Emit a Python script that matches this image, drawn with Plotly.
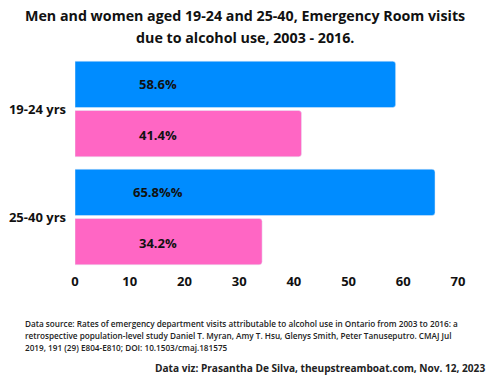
import plotly.graph_objects as go

categories = ["19-24 yrs", "25-40 yrs"]
men_values = [58.6, 65.8]
women_values = [41.4, 34.2]
men_labels = ["58.6%", "65.8%%"]
women_labels = ["41.4%", "34.2%"]
x_ticks = [0, 10, 20, 30, 40, 50, 60, 70]

BLUE = "#008CFF"
PINK = "#FF66C4"
FONT = "Open Sans"

fig = go.Figure()
fig.add_trace(go.Bar(y=categories, x=men_values, orientation="h", marker=dict(color=BLUE, cornerradius=3),
                     name="Men", hoverinfo="skip"))
fig.add_trace(go.Bar(y=categories, x=women_values, orientation="h", marker=dict(color=PINK, cornerradius=3),
                     name="Women", hoverinfo="skip"))

label_x = 15.2
for cat, ml, wl in zip(categories, men_labels, women_labels):
    fig.add_annotation(x=label_x, y=cat, text=ml, showarrow=False, yshift=25.5,
                       font=dict(family=FONT, size=13, color="#111111", weight="bold"))
    fig.add_annotation(x=label_x, y=cat, text=wl, showarrow=False, yshift=-25.5,
                       font=dict(family=FONT, size=13, color="#111111", weight="bold"))

title_lines = ["Men and women aged 19-24 and 25-40, Emergency Room visits",
               "due to alcohol use, 2003 - 2016."]
for ty, line in zip([1.185, 1.079], title_lines):
    fig.add_annotation(xref="paper", yref="paper", x=0.444, y=ty, yanchor="middle", xanchor="center",
                       text=line, showarrow=False,
                       font=dict(family=FONT, size=14.25, color="#111111", weight="bold"))

source_lines = ["Data source: Rates of emergency department visits attributable to alcohol use in Ontario from 2003 to 2016: a",
                "retrospective population-level study Daniel T. Myran, Amy T. Hsu, Glenys Smith, Peter Tanuseputro. CMAJ Jul",
                "2019, 191 (29) E804-E810; DOI: 10.1503/cmaj.181575"]
for i, line in enumerate(source_lines):
    fig.add_annotation(xref="paper", yref="paper", x=-0.136, y=(271 - 323 - 12 * i) / 216,
                       xanchor="left", yanchor="middle", align="left",
                       text=line, showarrow=False,
                       font=dict(family=FONT, size=8.2, color="#222222", weight=600))

fig.add_annotation(xref="paper", yref="paper", x=1.076, y=(271 - 368) / 216, xanchor="right", yanchor="middle",
                   text="Data viz: Prasantha De Silva, theupstreamboat.com, Nov. 12, 2023",
                   showarrow=False,
                   font=dict(family=FONT, size=10.1, color="#222222", weight="bold"))

fig.update_layout(
    width=500, height=375,
    margin=dict(l=75, r=42, t=55, b=104),
    plot_bgcolor="white", paper_bgcolor="white",
    barmode="group", bargap=0.087, bargroupgap=0.06,
    showlegend=False,
    xaxis=dict(range=[0, 70], tickvals=x_ticks, showgrid=False, zeroline=False, showline=False, automargin=False,
               tickfont=dict(family=FONT, size=13, color="#111111", weight="bold"), ticklabelstandoff=1),
    yaxis=dict(autorange="reversed", showgrid=False, zeroline=False, showline=False, automargin=False,
               tickfont=dict(family=FONT, size=13, color="#111111", weight="bold"), ticklabelstandoff=8),
)

fig.write_html("out.html", config={"displayModeBar": False},
               post_script="document.body.style.margin='0';document.body.style.overflow='hidden';")
